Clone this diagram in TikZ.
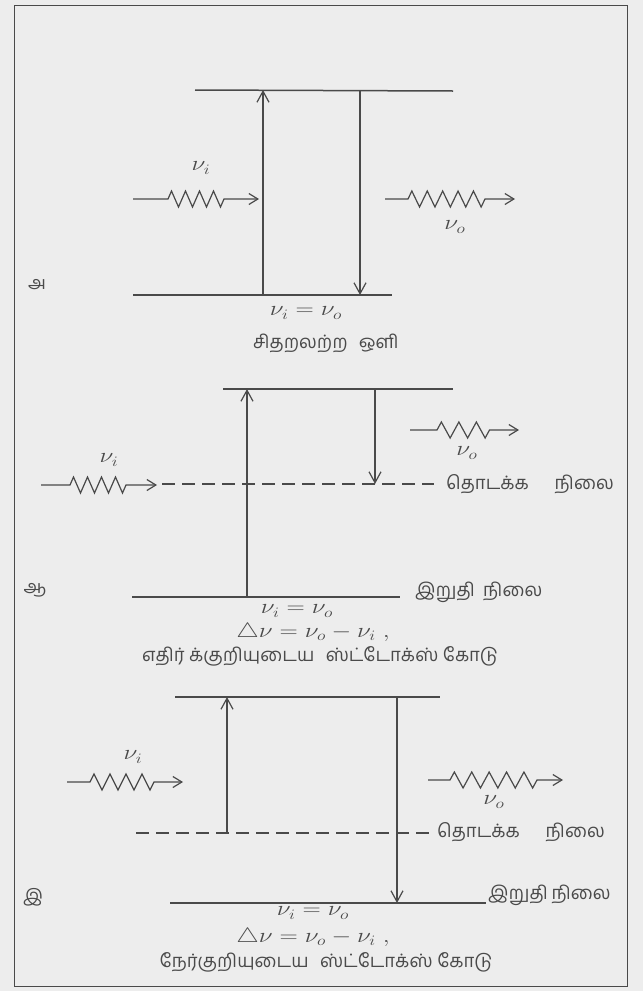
\documentclass[tikz,border=0pt]{standalone}
\usepackage{fontspec}
\newfontfamily\tamil[Script=Tamil]{Hind Madurai}
\usetikzlibrary{arrows.meta,decorations.pathmorphing}
\definecolor{ink}{HTML}{4A4A4A}
\definecolor{paper}{HTML}{EDEDED}
\newcommand\widemath[1]{\scalebox{1.22}[1]{#1}}
\newcommand\photon[7]{%
  \coordinate (#1-s) at (#3,#2);
  \coordinate (#1-a) at (#4,#2);
  \coordinate (#1-b) at ({#4+#5*#6},#2);
  \coordinate (#1-t) at (#7,#2);
  \draw[wave] (#1-s) -- (#1-a)
    decorate[decoration={zigzag,segment length=#6pt,amplitude=8pt}] {-- (#1-b)}
    -- (#1-t);}
\begin{document}
\begin{tikzpicture}[x=1pt,y=-1pt,
  level/.style={ink, line width=1.5pt},
  trans/.style={ink, line width=1.2pt, -{Straight Barb[length=11pt,width=12pt]}},
  wave/.style={ink, line width=1.2pt, -{Straight Barb[length=9pt,width=11pt]}},
  dashlevel/.style={ink, line width=1.3pt, dash pattern=on 13pt off 7pt},
  tam/.style={text=ink, font=\tamil\fontsize{18.5}{20}\selectfont, inner sep=0pt},
  lab/.style={text=ink, font=\tamil\fontsize{18}{20}\selectfont, inner sep=0pt},
  mth/.style={text=ink, font=\fontsize{21}{24}\selectfont, inner sep=0pt}]
\fill[paper] (0,0) rectangle (643,991);
\useasboundingbox (0,0) rectangle (643,991);
\draw[ink, line width=1pt] (14,5) rectangle (627,986);

% ---------- A ----------
\coordinate (Aul) at (195,90);  \coordinate (Aur) at (453,91);
\coordinate (All) at (133,295); \coordinate (Alr) at (392,295);
\draw[level] (Aul) -- (Aur);
\draw[level] (All) -- (Alr);
\coordinate (Aup0) at (263,295); \coordinate (Aup1) at (263,90);
\coordinate (Adn0) at (360,91);  \coordinate (Adn1) at (360,295);
\draw[trans] (Aup0) -- (Aup1);
\draw[trans] (Adn0) -- (Adn1);
\photon{Ain}{199}{133}{168}{4}{14}{259}
\photon{Aout}{199}{385}{408}{5}{15.4}{515}
\node[mth] (Ani) at (201,168) {\widemath{$\nu_i$}};
\node[mth] (Ano) at (455,227) {\widemath{$\nu_o$}};
\node[lab] (Alab) at (37,285) {அ};
\node[mth] (Aeq) at (306,313) {\widemath{$\nu_i = \nu_o$}};
\node[tam] (Atxt) at (326,343) {சிதறலற்ற\hspace{0.6em}ஒளி};

% ---------- B ----------
\coordinate (Bul) at (223,389); \coordinate (Bur) at (453,389);
\coordinate (Bdl) at (162,484); \coordinate (Bdr) at (434,484);
\coordinate (Bll) at (132,597); \coordinate (Blr) at (400,597);
\draw[level] (Bul) -- (Bur);
\draw[dashlevel] (Bdl) -- (Bdr);
\draw[level] (Bll) -- (Blr);
\coordinate (Bup0) at (247,597); \coordinate (Bup1) at (247,389);
\coordinate (Bdn0) at (375,389); \coordinate (Bdn1) at (375,484);
\draw[trans] (Bup0) -- (Bup1);
\draw[trans] (Bdn0) -- (Bdn1);
\photon{Bin}{485}{41}{70}{4}{14}{157}
\photon{Bout}{430}{410}{437}{3}{17.5}{519}
\node[mth] (Bni) at (109,460) {\widemath{$\nu_i$}};
\node[mth] (Bno) at (467,453) {\widemath{$\nu_o$}};
\node[tam, anchor=west] (Bstart) at (446,484) {தொடக்க\hspace{1.4em}நிலை};
\node[tam, anchor=west] (Bend) at (415,592) {இறுதி\hspace{0.45em}நிலை};
\node[lab] (Blab) at (35,590) {ஆ};
\node[mth] (Beq) at (297,611) {\widemath{$\nu_i = \nu_o$}};
\node[mth] (Bdel) at (313,632) {\widemath{$\triangle\nu = \nu_o - \nu_i\;,$}};
\node[tam] (Btxt) at (320,656) {எதிர் க்குறியுடைய\hspace{0.6em}ஸ்ட்டோக்ஸ் கோடு};

% ---------- C ----------
\coordinate (Cul) at (175,697); \coordinate (Cur) at (440,697);
\coordinate (Cdl) at (136,833); \coordinate (Cdr) at (436,833);
\coordinate (Cll) at (170,903); \coordinate (Clr) at (486,903);
\draw[level] (Cul) -- (Cur);
\draw[dashlevel] (Cdl) -- (Cdr);
\draw[level] (Cll) -- (Clr);
\coordinate (Cup0) at (227,833); \coordinate (Cup1) at (227,697);
\coordinate (Cdn0) at (397,697); \coordinate (Cdn1) at (397,903);
\draw[trans] (Cup0) -- (Cup1);
\draw[trans] (Cdn0) -- (Cdn1);
\photon{Cin}{782}{67}{90}{4}{16}{183}
\photon{Cout}{780}{428}{450}{5}{17.4}{563}
\node[mth] (Cni) at (133,757) {\widemath{$\nu_i$}};
\node[mth] (Cno) at (494,802) {\widemath{$\nu_o$}};
\node[tam, anchor=west] (Cstart) at (437,832) {தொடக்க\hspace{1.4em}நிலை};
\node[tam, anchor=west] (Cend) at (488,895) {இறுதி\hspace{0.2em}நிலை};
\node[lab] (Clab) at (33,897) {இ};
\node[mth] (Ceq) at (313,913) {\widemath{$\nu_i = \nu_o$}};
\node[mth] (Cdel) at (313,937) {\widemath{$\triangle\nu = \nu_o - \nu_i\;,$}};
\node[tam] (Ctxt) at (326,962) {நேர்குறியுடைய\hspace{0.6em}ஸ்ட்டோக்ஸ் கோடு};
\end{tikzpicture}
\end{document}
